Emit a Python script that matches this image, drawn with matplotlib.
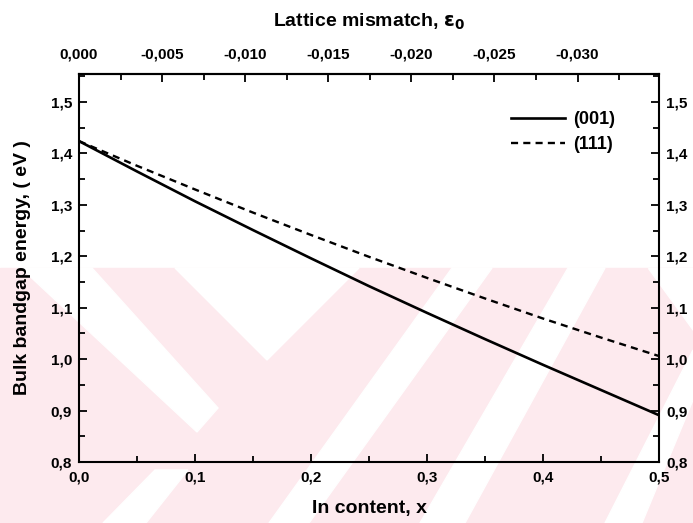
import matplotlib

matplotlib.use("Agg")
import matplotlib.pyplot as plt
from matplotlib.patches import Polygon, Rectangle
from matplotlib.ticker import FuncFormatter, MultipleLocator

# In content x and bulk bandgap (eV)
x_in = [0.0, 0.05, 0.10, 0.15, 0.20, 0.25, 0.30, 0.35, 0.40, 0.45, 0.50]
eg_001 = [1.424, 1.365, 1.307, 1.251, 1.196, 1.142, 1.090, 1.039, 0.989, 0.940, 0.891]
eg_111 = [1.424, 1.376, 1.330, 1.285, 1.2415, 1.199, 1.158, 1.118, 1.079, 1.042, 1.006]
series_labels = ["(001)", "(111)"]

# lattice mismatch per unit In content (top axis)
MISMATCH_PER_X = -0.0698
top_ticks = [0.0, -0.005, -0.010, -0.015, -0.020, -0.025, -0.030]

W, H = 693, 523
PINK = "#fdeaee"


def _px(pts):
    return [(x / W, 1 - y / H) for x, y in pts]


def comma(fmt):
    return FuncFormatter(lambda v, _: format(v, fmt).replace(".", ","))


plt.rcParams["font.family"] = ["Liberation Sans", "DejaVu Sans"]
plt.rcParams["font.weight"] = "bold"

fig = plt.figure(figsize=(W / 100, H / 100), dpi=100)

# faint background watermark
fig.patches.append(Rectangle((0, 0), 1, 1 - 268 / H, transform=fig.transFigure,
                             color=PINK, zorder=-10))
for poly in ([(21, 268), (92, 268), (218, 408), (197, 432)],
             [(175, 268), (359, 268), (267, 360)],
             [(155, 470), (188, 470), (146, 523), (103, 523)],
             [(452, 268), (492, 268), (309, 523), (269, 523)],
             [(568, 268), (605, 268), (465, 523), (420, 523)],
             [(648, 268), (693, 268), (693, 330)],
             [(693, 350), (693, 400), (642, 523), (605, 523)]):
    fig.patches.append(Polygon(_px(poly), closed=True, transform=fig.transFigure,
                               color="white", zorder=-9))

ax = fig.add_axes([79 / W, 1 - 462 / H, 580 / W, 388 / H])
ax.patch.set_alpha(0)

ax.plot(x_in, eg_001, color="black", lw=1.9, label=series_labels[0])
ax.plot(x_in, eg_111, color="black", lw=1.7, dashes=(3.0, 2.2), label=series_labels[1])

ax.set_xlim(0, 0.5)
ax.set_ylim(0.8, 1.5545)
ax.xaxis.set_major_locator(MultipleLocator(0.1))
ax.xaxis.set_minor_locator(MultipleLocator(0.05))
ax.yaxis.set_major_locator(MultipleLocator(0.1))
ax.yaxis.set_minor_locator(MultipleLocator(0.05))
ax.xaxis.set_major_formatter(comma(".1f"))
ax.yaxis.set_major_formatter(comma(".1f"))
ax.tick_params(which="both", direction="in", width=1.3, labelsize=11,
               left=True, right=True, bottom=True, top=False,
               labelleft=True, labelright=True)
ax.tick_params(which="major", length=6, pad=5)
ax.tick_params(which="minor", length=4)
ax.tick_params(axis="x", which="major", pad=6)
for s in ax.spines.values():
    s.set_linewidth(1.5)

ax.set_xlabel("In content, x", fontsize=14, fontweight="bold")
ax.xaxis.set_label_coords(0.5, -0.098)
ax.set_ylabel("Bulk bandgap energy, ( eV )", fontsize=14, fontweight="bold")
ax.yaxis.set_label_coords(-48 / 580, 0.5)

top = ax.secondary_xaxis("top", functions=(lambda x: x * MISMATCH_PER_X,
                                           lambda e: e / MISMATCH_PER_X))
top.set_xticks(top_ticks)
top.xaxis.set_minor_locator(MultipleLocator(0.0025))
top.xaxis.set_major_formatter(comma(".3f"))
top.tick_params(which="both", direction="in", width=1.3, labelsize=11)
top.tick_params(which="major", length=6, pad=9)
top.tick_params(which="minor", length=4)
top.spines["top"].set_linewidth(1.5)
top.set_xlabel(r"Lattice mismatch, $\mathbf{\varepsilon_0}$", fontsize=14,
               fontweight="bold", labelpad=15)

ax.legend(loc="upper left", bbox_to_anchor=(511 / W, 1 - 111 / H),
          bbox_transform=fig.transFigure, frameon=False, fontsize=13,
          borderpad=0, borderaxespad=0, handlelength=3.0, handletextpad=0.45,
          labelspacing=0.45)

fig.savefig("out.png", dpi=100)
